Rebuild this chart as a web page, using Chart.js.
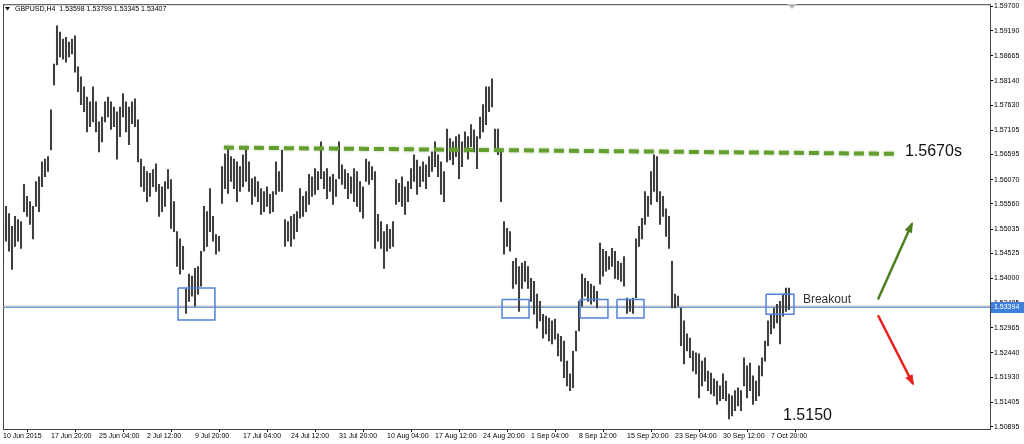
<!DOCTYPE html>
<html><head><meta charset="utf-8">
<script src="https://cdn.jsdelivr.net/npm/chart.js@4/dist/chart.umd.min.js"></script>
<style>html,body{margin:0;padding:0;background:#fff}canvas{display:block}</style>
</head><body>
<canvas id="c" width="1024" height="444"></canvas>
<script>
// ---- data (GBPUSD H4, one sample per 2 bars) ----
const BARS_PER_POINT = 2;
const highs = [
1.5519,1.5551,1.5536,1.5509,1.5530,1.5523,1.5519,1.5597,1.5572,1.5561,
1.5551,1.5603,1.5613,1.5644,1.5650,1.5655,1.5753,1.5849,1.5929,1.5916,
1.5901,1.5905,1.5895,1.5901,1.5908,1.5843,1.5822,1.5801,1.5780,1.5770,
1.5801,1.5770,1.5728,1.5738,1.5770,1.5780,1.5770,1.5759,1.5749,1.5759,
1.5787,1.5770,1.5759,1.5770,1.5776,1.5732,1.5650,1.5634,1.5624,1.5620,
1.5628,1.5640,1.5597,1.5592,1.5603,1.5628,1.5607,1.5561,1.5498,1.5483,
1.5467,1.5379,1.5409,1.5405,1.5421,1.5425,1.5457,1.5551,1.5540,1.5588,
1.5530,1.5492,1.5488,1.5634,1.5661,1.5671,1.5655,1.5650,1.5644,1.5634,
1.5659,1.5671,1.5644,1.5609,1.5613,1.5603,1.5588,1.5582,1.5592,1.5576,
1.5582,1.5644,1.5624,1.5669,1.5523,1.5519,1.5530,1.5534,1.5540,1.5588,
1.5572,1.5582,1.5618,1.5613,1.5630,1.5624,1.5686,1.5624,1.5630,1.5613,
1.5618,1.5607,1.5686,1.5638,1.5628,1.5620,1.5613,1.5630,1.5624,1.5603,
1.5592,1.5650,1.5644,1.5634,1.5624,1.5534,1.5519,1.5498,1.5513,1.5503,
1.5519,1.5607,1.5599,1.5613,1.5592,1.5603,1.5630,1.5659,1.5648,1.5634,
1.5644,1.5638,1.5655,1.5665,1.5686,1.5659,1.5644,1.5624,1.5713,1.5693,
1.5686,1.5697,1.5701,1.5686,1.5707,1.5697,1.5722,1.5711,1.5697,1.5738,
1.5764,1.5801,1.5801,1.5818,1.5713,1.5713,1.5671,1.5519,1.5505,1.5498,
1.5436,1.5442,1.5425,1.5432,1.5436,1.5425,1.5400,1.5394,1.5367,1.5352,
1.5325,1.5321,1.5317,1.5311,1.5315,1.5284,1.5279,1.5269,1.5227,1.5200,
1.5248,1.5290,1.5352,1.5409,1.5400,1.5394,1.5388,1.5384,1.5373,1.5474,
1.5461,1.5457,1.5446,1.5463,1.5457,1.5436,1.5432,1.5446,1.5359,1.5356,
1.5359,1.5483,1.5509,1.5526,1.5582,1.5572,1.5624,1.5659,1.5655,1.5582,
1.5572,1.5546,1.5530,1.5436,1.5367,1.5363,1.5338,1.5311,1.5284,1.5275,
1.5248,1.5244,1.5242,1.5227,1.5234,1.5206,1.5202,1.5190,1.5185,1.5175,
1.5200,1.5185,1.5158,1.5154,1.5165,1.5171,1.5165,1.5234,1.5217,1.5223,
1.5196,1.5185,1.5217,1.5234,1.5269,1.5311,1.5325,1.5338,1.5346,1.5352,
1.5367,1.5380,1.53799
];
const lows = [
1.5436,1.5478,1.5457,1.5419,1.5467,1.5478,1.5463,1.5540,1.5530,1.5513,
1.5483,1.5551,1.5540,1.5592,1.5613,1.5624,1.5669,1.5805,1.5847,1.5864,
1.5859,1.5853,1.5864,1.5870,1.5832,1.5791,1.5764,1.5749,1.5707,1.5718,
1.5728,1.5707,1.5665,1.5686,1.5728,1.5738,1.5712,1.5718,1.5650,1.5697,
1.5738,1.5707,1.5680,1.5724,1.5718,1.5644,1.5592,1.5582,1.5561,1.5572,
1.5592,1.5582,1.5530,1.5540,1.5551,1.5588,1.5505,1.5498,1.5425,1.5409,
1.5419,1.5327,1.5352,1.5363,1.5342,1.5367,1.5384,1.5457,1.5467,1.5498,
1.5478,1.5451,1.5457,1.5557,1.5588,1.5578,1.5603,1.5588,1.5561,1.5582,
1.5592,1.5603,1.5582,1.5555,1.5572,1.5561,1.5534,1.5540,1.5551,1.5536,
1.5540,1.5576,1.5582,1.5582,1.5467,1.5478,1.5467,1.5483,1.5498,1.5526,
1.5530,1.5540,1.5555,1.5572,1.5576,1.5586,1.5609,1.5588,1.5567,1.5582,
1.5555,1.5572,1.5609,1.5597,1.5588,1.5567,1.5578,1.5561,1.5551,1.5540,
1.5526,1.5603,1.5597,1.5607,1.5463,1.5478,1.5463,1.5421,1.5457,1.5463,
1.5467,1.5555,1.5561,1.5551,1.5534,1.5561,1.5588,1.5603,1.5576,1.5592,
1.5603,1.5588,1.5613,1.5624,1.5634,1.5613,1.5576,1.5561,1.5644,1.5648,
1.5638,1.5655,1.5609,1.5634,1.5665,1.5650,1.5676,1.5665,1.5630,1.5693,
1.5707,1.5722,1.5749,1.5759,1.5671,1.5659,1.5561,1.5451,1.5467,1.5457,
1.5379,1.5388,1.5331,1.5379,1.5394,1.5379,1.5352,1.5325,1.5296,1.5311,
1.5275,1.5284,1.5269,1.5263,1.5273,1.5238,1.5227,1.5192,1.5175,1.5165,
1.5171,1.5248,1.5290,1.5342,1.5363,1.5352,1.5346,1.5352,1.5338,1.5388,
1.5405,1.5415,1.5419,1.5425,1.5400,1.5398,1.5394,1.5384,1.5327,1.5331,
1.5327,1.5359,1.5467,1.5483,1.5513,1.5530,1.5555,1.5582,1.5561,1.5513,
1.5530,1.5488,1.5463,1.5338,1.5338,1.5342,1.5259,1.5221,1.5248,1.5234,
1.5206,1.5200,1.5150,1.5175,1.5185,1.5165,1.5158,1.5154,1.5136,1.5144,
1.5148,1.5144,1.5106,1.5112,1.5123,1.5133,1.5123,1.5175,1.5150,1.5165,
1.5136,1.5144,1.5154,1.5196,1.5227,1.5259,1.5284,1.5296,1.5307,1.5263,
1.5321,1.5331,1.53345
];
const timeLabels = ["10 Jun 2015","17 Jun 20:00","25 Jun 04:00","2 Jul 12:00","9 Jul 20:00",
  "17 Jul 04:00","24 Jul 12:00","31 Jul 20:00","10 Aug 04:00","17 Aug 12:00","24 Aug 20:00",
  "1 Sep 04:00","8 Sep 12:00","15 Sep 20:00","23 Sep 04:00","30 Sep 12:00","7 Oct 20:00"];
const BARS_PER_LABEL = 32;
const priceTicks = [1.59700,1.59190,1.58665,1.58140,1.57630,1.57105,1.56595,1.56070,1.55560,
  1.55035,1.54525,1.54000,1.53485,1.52965,1.52440,1.51930,1.51405,1.50895];
const titleText = "GBPUSD,H4  1.53598 1.53799 1.53345 1.53407";
const bidPrice = 1.53394;
const hLinePrice = 1.53418;
const resistanceX = [147.3, 594.7];
const resistanceY = [1.5674, 1.5661];
const upArrowX = [583.3, 606.0];
const upArrowY = [1.5356, 1.5515];
const downArrowX = [583.3, 606.7];
const downArrowY = [1.5323, 1.5179];
// boxes: [x0, x1, yTop, yBottom]
const boxes = [
  [116.7, 141.3, 1.5380, 1.5313],
  [332.7, 350.7, 1.5356, 1.5317],
  [384.7, 403.3, 1.5356, 1.5317],
  [409.3, 427.3, 1.5356, 1.5317],
  [508.7, 527.3, 1.5367, 1.5325]
];
// text annotations: [text, x, y, font, color]
const notes = [
  ["1.5670s", 601.3, 1.5665, "16px 'Liberation Sans', Arial", "#111"],
  ["1.5150", 520.0, 1.5113, "16px 'Liberation Sans', Arial", "#111"],
  ["Breakout", 533.3, 1.5356, "12px 'Liberation Sans', Arial", "#333"]
];
const X_MAX = 658;
const Y_MIN = 1.50847, Y_MAX = 1.59722;

// ---- build datasets ----
const barData = highs.map((h, i) => ({x: i * BARS_PER_POINT, y: [lows[i], h]}));
const toPts = (xs, ys) => xs.map((x, i) => ({x, y: ys[i]}));
const boxSets = boxes.map(b => ({
  type: 'line',
  data: [{x:b[0],y:b[2]},{x:b[1],y:b[2]},{x:b[1],y:b[3]},{x:b[0],y:b[3]},{x:b[0],y:b[2]}],
  borderColor: '#4f82d4', borderWidth: 1.5, pointRadius: 0, fill: false, tension: 0, order: 0
}));

const overlay = {
  id: 'overlay',
  beforeDatasetsDraw(chart) {
    const {ctx, chartArea: a} = chart;
    ctx.save();
    ctx.strokeStyle = '#444';
    ctx.lineWidth = 1;
    ctx.strokeRect(a.left + 0.5, a.top - 0.5, a.right - a.left, a.bottom - a.top + 1);
    ctx.restore();
  },
  beforeDatasetDraw(chart, args) {
    if (args.index === 3) {
      const ctx = chart.ctx;
      ctx.save();
      ctx.shadowColor = 'rgba(90,150,40,0.45)';
      ctx.shadowBlur = 3;
    }
  },
  afterDatasetDraw(chart, args) {
    if (args.index === 3) chart.ctx.restore();
  },
  afterDatasetsDraw(chart) {
    const {ctx, scales: {x, y}} = chart;
    ctx.save();
    // arrowheads
    const heads = [[4, '#4e7f21'], [5, '#e8201c']];
    heads.forEach(([di, col]) => {
      const pts = chart.getDatasetMeta(di).data;
      const p1 = pts[pts.length - 2], p2 = pts[pts.length - 1];
      const ang = Math.atan2(p2.y - p1.y, p2.x - p1.x);
      const L = 9, W = 4;
      ctx.fillStyle = col;
      ctx.beginPath();
      ctx.moveTo(p2.x + Math.cos(ang) * 2, p2.y + Math.sin(ang) * 2);
      ctx.lineTo(p2.x - Math.cos(ang) * L + Math.sin(ang) * W, p2.y - Math.sin(ang) * L - Math.cos(ang) * W);
      ctx.lineTo(p2.x - Math.cos(ang) * L - Math.sin(ang) * W, p2.y - Math.sin(ang) * L + Math.cos(ang) * W);
      ctx.closePath();
      ctx.fill();
    });
    // texts
    ctx.textBaseline = 'middle';
    ctx.textAlign = 'left';
    notes.forEach(([t, nx, ny, f, c]) => {
      ctx.font = f; ctx.fillStyle = c;
      ctx.fillText(t, x.getPixelForValue(nx), y.getPixelForValue(ny));
    });
    // title
    ctx.fillStyle = '#000';
    ctx.beginPath();
    ctx.moveTo(5, 7); ctx.lineTo(10, 7); ctx.lineTo(7.5, 10.5); ctx.closePath(); ctx.fill();
    ctx.font = "7px 'Liberation Sans', Arial";
    ctx.fillText(titleText, 15, 9);
    // shift marker
    ctx.fillStyle = '#bbb';
    ctx.beginPath();
    ctx.moveTo(787, 4); ctx.lineTo(797, 4); ctx.lineTo(792, 9); ctx.closePath(); ctx.fill();
    ctx.restore();
  },
  afterDraw(chart) {
    const {ctx, scales: {y}, chartArea: a} = chart;
    const py = Math.round(y.getPixelForValue(bidPrice));
    ctx.save();
    ctx.fillStyle = '#3f80dc';
    ctx.fillRect(a.right + 1, py - 5, 1024 - a.right - 1, 11);
    ctx.fillStyle = '#fff';
    ctx.font = "7px 'Liberation Sans', Arial";
    ctx.textBaseline = 'middle';
    ctx.textAlign = 'left';
    ctx.fillText(bidPrice.toFixed(5), a.right + 4, py + 0.5);
    ctx.restore();
  }
};

new Chart(document.getElementById('c'), {
  type: 'bar',
  data: {
    datasets: [
      { type: 'bar', data: barData, backgroundColor: '#3f3f3f', barThickness: 1.4, order: 5 },
      { type: 'line', data: toPts([0, X_MAX], [hLinePrice, hLinePrice]), borderColor: '#a8a8a8', borderWidth: 1, pointRadius: 0, order: 6 },
      { type: 'line', data: toPts([0, X_MAX], [bidPrice, bidPrice]), borderColor: '#5b95e0', borderWidth: 1, pointRadius: 0, order: 6 },
      { type: 'line', data: toPts(resistanceX, resistanceY), borderColor: '#639f2e', borderWidth: 4, borderDash: [10, 5], pointRadius: 0, order: 1 },
      { type: 'line', data: toPts(upArrowX, upArrowY), borderColor: '#4e7f21', borderWidth: 2.5, pointRadius: 0, order: 1 },
      { type: 'line', data: toPts(downArrowX, downArrowY), borderColor: '#e8201c', borderWidth: 2.5, pointRadius: 0, order: 1 },
      ...boxSets
    ]
  },
  options: {
    responsive: false,
    animation: false,
    devicePixelRatio: 1,
    layout: { padding: { top: 4, left: 3, right: 0, bottom: 0 } },
    plugins: { legend: { display: false }, tooltip: { enabled: false } },
    scales: {
      x: {
        type: 'linear', min: 0, max: X_MAX, offset: false,
        afterBuildTicks: ax => { ax.ticks = timeLabels.map((_, k) => ({ value: k * BARS_PER_LABEL })); },
        afterFit: ax => { ax.height = 15; },
        grid: { drawOnChartArea: false, drawTicks: true, tickLength: 3, color: '#000' },
        border: { display: true, color: '#000' },
        ticks: { autoSkip: false, maxRotation: 0, align: 'start', padding: 0, color: '#000',
          font: { family: "'Liberation Sans', Arial", size: 7 },
          callback: (v, i) => timeLabels[i] }
      },
      y: {
        type: 'linear', position: 'right', min: Y_MIN, max: Y_MAX,
        afterBuildTicks: ax => { ax.ticks = priceTicks.map(v => ({ value: v })); },
        afterFit: ax => { ax.width = 34; },
        grid: { drawOnChartArea: false, drawTicks: true, tickLength: 3, color: '#000' },
        border: { display: true, color: '#000' },
        ticks: { padding: 1, color: '#000', font: { family: "'Liberation Sans', Arial", size: 7 },
          callback: v => Number(v).toFixed(5) }
      }
    }
  },
  plugins: [overlay]
});
</script>
</body></html>
